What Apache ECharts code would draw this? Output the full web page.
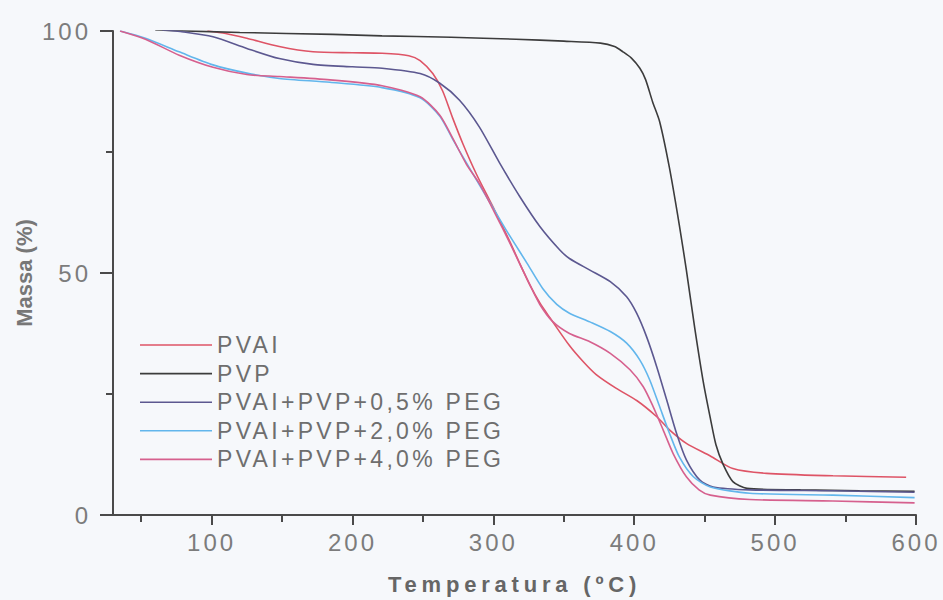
<!DOCTYPE html>
<html>
<head>
<meta charset="utf-8">
<script src="https://cdn.jsdelivr.net/npm/echarts@6/dist/echarts.min.js"></script>
<style>
html,body{margin:0;padding:0;background:#f6f8fb;}
#chart{width:943px;height:600px;}
</style>
</head>
<body>
<div id="chart"></div>
<script>
// ---- data (temperature °C, mass %) ----
const seriesNames = ["PVAI", "PVP", "PVAI+PVP+0,5% PEG", "PVAI+PVP+2,0% PEG", "PVAI+PVP+4,0% PEG"];

const pvai = [[97,100],[110,99.5],[125,98.5],[148,96.8],[172,95.7],[200,95.5],[221,95.4],[240,94.9],[248,93.9],[257,91.2],[264,87.6],[271,82.1],[278.5,76.6],[288,70.4],[300,63.5],[311.7,56.5],[319,51.8],[326,47.5],[333,43.8],[340,40.8],[354,35],[364,31.6],[373,29],[387,26.2],[402,23.6],[416,20.3],[425,17.6],[437,14.8],[454,12.2],[470,9.6],[494,8.6],[541,8.1],[593,7.8]];

const pvp = [[60,100.2],[120,99.7],[186,99.3],[221,99.0],[270,98.7],[316,98.3],[350,97.9],[376,97.5],[386,96.8],[392,95.7],[398,94.4],[404,92.3],[408,90.0],[413,85.4],[418,81.3],[425,71.7],[432,59.9],[437,50.6],[443,38.5],[449,27.5],[454,20],[458,14.5],[463,10.5],[470,6.9],[480,5.5],[518,5.2],[560,5.0],[599,4.9]];

const peg05 = [[65,100.2],[80,99.8],[101,98.8],[125,96.4],[148,94.3],[172,93.1],[200,92.6],[221,92.3],[248,91.2],[262,89.2],[276,85.7],[290,80.2],[304.5,72.7],[318.7,65.8],[333,59.6],[347,54.8],[354,53],[368.5,50.6],[383,48.2],[394.6,45.1],[401.7,41.7],[408.8,36.8],[416,30.6],[423,23.8],[430,16.9],[437,11.4],[446.6,7.2],[456,5.8],[482,5.2],[541,5.0],[599,4.7]];

const peg20 = [[35,100],[53,98.5],[77,95.7],[101,93],[125,91.3],[148,90.2],[184,89.4],[221,88.3],[248,86.2],[262,82.4],[271.4,77.5],[281,72.7],[295,65.8],[309,58.9],[323.5,52.2],[335,46.8],[345,43.5],[354,41.7],[368.5,39.9],[383,37.9],[394.6,35.5],[404,32],[411,27.9],[418,22.4],[425,16.9],[432,12],[442,7.9],[454,5.8],[482,4.5],[541,4.1],[599,3.6]];

const peg40 = [[35,100],[53,98.3],[77,95],[101,92.5],[125,91],[148,90.6],[184,89.9],[221,88.7],[248,86.4],[262,82.6],[271.4,77.7],[281,72.4],[290,68.5],[300,63],[312,56],[326,47.5],[333,43.5],[342,40],[354,37.5],[368.5,35.8],[383,33.4],[397,30],[406.4,26.5],[413.4,22.4],[420.5,17.6],[427.6,12.7],[437,7.9],[446,5.2],[454,4.1],[482,3.2],[541,2.9],[599,2.5]];

const xMajorTicks = [100, 200, 300, 400, 500, 600];
const xMinorTicks = [50, 150, 250, 350, 450, 550];
const xTitle = "Temperatura (ºC)";
const yTitle = "Massa (%)";

const colors = ["#de5466", "#3c3c3c", "#5c5890", "#62b6ec", "#d6608e"];
const allData = [pvai, pvp, peg05, peg20, peg40];

const chart = echarts.init(document.getElementById('chart'), null, {renderer: 'svg'});
const axisColor = '#4a4a4a';
const labelColor = '#7c7c7c';
const font = "'Liberation Sans', Arial, sans-serif";

chart.setOption({
  backgroundColor: '#f6f8fb',
  animation: false,
  grid: {left: 113, right: 27, top: 31, bottom: 85},
  legend: {
    orient: 'vertical',
    left: 135,
    top: 328,
    icon: 'rect',
    itemWidth: 72,
    itemHeight: 1.6,
    itemGap: 4.6,
    data: seriesNames,
    textStyle: {fontSize: 23, color: '#6e6e6e', fontFamily: font, lineHeight: 24}
  },
  xAxis: [{
    type: 'value', min: 30, max: 600,
    name: xTitle, nameLocation: 'middle', nameGap: 58,
    nameTextStyle: {fontSize: 22, fontWeight: 'bold', color: '#666', fontFamily: font},
    axisLine: {show: true, lineStyle: {color: axisColor, width: 2}},
    axisTick: {show: true, customValues: xMajorTicks, length: 10, lineStyle: {color: axisColor, width: 2}},
    axisLabel: {show: true, customValues: xMajorTicks, fontSize: 24, color: labelColor, fontFamily: font, margin: 15},
    splitLine: {show: false}
  }, {
    type: 'value', min: 30, max: 600, position: 'bottom',
    axisLine: {show: false},
    axisTick: {show: true, customValues: xMinorTicks, length: 7, lineStyle: {color: axisColor, width: 2}},
    axisLabel: {show: false},
    splitLine: {show: false}
  }],
  yAxis: {
    type: 'value', min: 0, max: 100, interval: 50,
    name: yTitle, nameLocation: 'middle', nameGap: 78,
    nameTextStyle: {fontSize: 22, fontWeight: 'bold', color: '#777', fontFamily: font},
    axisLine: {show: true, lineStyle: {color: axisColor, width: 2}},
    axisTick: {show: true, length: 13, lineStyle: {color: axisColor, width: 2}},
    minorTick: {show: true, splitNumber: 2, length: 7, lineStyle: {color: axisColor, width: 2}},
    axisLabel: {fontSize: 24, color: labelColor, fontFamily: font, margin: 22},
    splitLine: {show: false}
  },
  series: seriesNames.map((n, i) => ({
    name: n, type: 'line', data: allData[i],
    symbol: 'none', smooth: 0.25,
    lineStyle: {color: colors[i], width: 1.6},
    itemStyle: {color: colors[i]}
  }))
});

function applySpacing() {
  chart.getDom().querySelectorAll('text').forEach(t => {
    const s = t.textContent;
    let ls = 0;
    if (s === xTitle) ls = 4.8;
    else if (seriesNames.includes(s)) ls = 3.3;
    else if (/^\d+$/.test(s)) ls = 3;
    t.style.letterSpacing = ls + 'px';
  });
}
chart.on('finished', applySpacing);
applySpacing();
setTimeout(applySpacing, 50);
</script>
</body>
</html>
